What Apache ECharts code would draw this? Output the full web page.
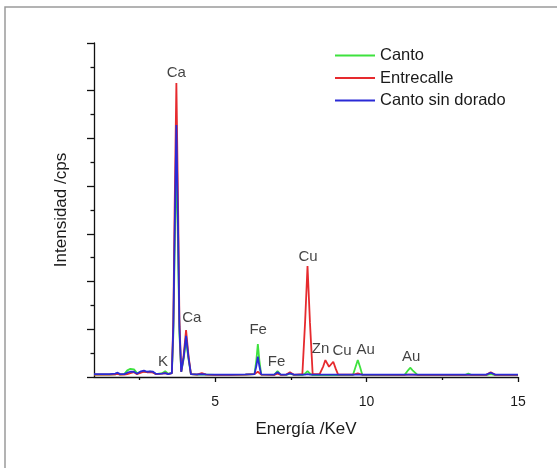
<!DOCTYPE html>
<html>
<head>
    <meta charset="utf-8">
    <title>Espectro XRF</title>
    <script src="https://cdn.jsdelivr.net/npm/echarts@6/dist/echarts.min.js"></script>
    <style>
      body, canvas {
        padding: 0;
        margin: 0;
      }
      #main { width: 557px; height: 468px; background: #fff; }
    </style>
</head>
<body>
    <div id="main"></div>
    <script type="text/javascript">
      // energy grid (keV), one row per region of the spectrum
      const energy = [
        1.0, 1.5, 1.7, 1.78, 1.86, 2.0, 2.1, 2.2, 2.32, 2.42, 2.55, 2.65, 2.75, 2.85, 2.95, 3.05,
        3.25, 3.35, 3.45, 3.57, 3.62, 3.66, 3.72, 3.78, 3.82, 3.88, 3.96, 4.04, 4.12, 4.2,
        4.4, 4.56, 4.7, 5.0, 5.5, 6.0, 6.3, 6.36, 6.41, 6.46, 6.52,
        6.95, 7.06, 7.17, 7.35, 7.47, 7.6,
        7.88, 7.97, 8.05, 8.13, 8.22, 8.45, 8.57, 8.64, 8.76, 8.9, 8.98, 9.06,
        9.55, 9.63, 9.71, 9.79, 9.86, 11.25, 11.37, 11.44, 11.52, 11.69,
        13.25, 13.36, 13.47, 13.95, 14.1, 14.25, 15.0
      ];
      const canto = [
        .10, .10, .11, .14, .10, .12, .28, .34, .32, .16, .20, .24, .20, .22, .20, .12,
        .16, .24, .14, .16, 1.8, 5.0, 9.2, 5.0, 1.8, .22, .75, 1.55, .75, .12,
        .10, .10, .10, .09, .09, .10, .12, .70, 1.38, .70, .10,
        .09, .25, .09, .09, .14, .09,
        .08, .14, .25, .14, .08, .08, .08, .08, .08, .08, .08, .08,
        .08, .40, .71, .40, .08, .08, .28, .39, .28, .08,
        .08, .14, .08, .08, .12, .08, .08
      ];
      const entrecalle = [
        .10, .10, .11, .13, .10, .10, .12, .16, .20, .12, .18, .22, .20, .20, .18, .12,
        .14, .16, .12, .16, 2.4, 6.8, 12.32, 6.8, 2.4, .22, .90, 1.97, .90, .12,
        .10, .16, .10, .09, .09, .10, .12, .18, .22, .18, .10,
        .09, .14, .09, .10, .20, .09,
        .12, 2.3, 4.65, 2.3, .12, .12, .45, .71, .43, .64, .35, .10,
        .10, .12, .15, .12, .10, .09, .10, .10, .10, .09,
        .09, .09, .09, .09, .20, .09, .09
      ];
      const cantoSinDorado = [
        .12, .12, .14, .18, .12, .12, .18, .22, .22, .14, .24, .27, .22, .24, .22, .13,
        .14, .16, .12, .16, 2.1, 5.8, 10.56, 5.8, 2.1, .22, .82, 1.72, .82, .12,
        .11, .12, .11, .10, .10, .11, .12, .46, .85, .46, .11,
        .10, .20, .10, .10, .15, .10,
        .10, .10, .12, .10, .10, .10, .10, .10, .10, .10, .10, .10,
        .10, .10, .10, .10, .10, .10, .10, .10, .10, .10,
        .10, .10, .10, .10, .18, .10, .10
      ];

      // peak annotations: element, energy, label height
      const peakNames = ['K', 'Ca', 'Ca', 'Fe', 'Fe', 'Cu', 'Zn', 'Cu', 'Au', 'Au'];
      const peakEnergy = [3.28, 3.72, 4.23, 6.42, 7.03, 8.07, 8.48, 9.19, 9.97, 11.47];
      const peakLabelY = [0.64, 12.75, 2.47, 1.97, 0.62, 5.04, 1.17, 1.10, 1.13, 0.85];

      const xLabels = [5, 10, 15];
      const xMinor = [2.5, 7.5, 12.5];

      const seriesNames = ['Canto', 'Entrecalle', 'Canto sin dorado'];
      const seriesValues = [canto, entrecalle, cantoSinDorado];
      const colors = ['#3ee23e', '#e62a2e', '#2a2ad6'];

      const font = '"Liberation Sans", Arial, sans-serif';
      const myChart = echarts.init(document.getElementById('main'));

      const lines = seriesNames.map((name, k) => ({
        name: name,
        type: 'line',
        showSymbol: false,
        animation: false,
        color: colors[k],
        lineStyle: { width: 1.8, color: colors[k] },
        data: energy.map((e, i) => [e, seriesValues[k][i]]),
        z: 2 + k
      }));

      const option = {
        backgroundColor: '#fff',
        animation: false,
        textStyle: { fontFamily: font },
        grid: { left: 94, right: 39, top: 43, bottom: 91, outerBoundsMode: 'none' },
        legend: {
          data: seriesNames,
          orient: 'vertical',
          left: 330,
          top: 42,
          icon: 'rect',
          itemWidth: 40,
          itemHeight: 2,
          itemGap: 5.5,
          textStyle: { fontSize: 16.5, color: '#1a1a1a', fontFamily: font }
        },
        xAxis: [{
          type: 'value',
          min: 1,
          max: 15,
          name: 'Energía /KeV',
          nameLocation: 'middle',
          nameGap: 44,
          nameTextStyle: { fontSize: 17, color: '#1a1a1a', fontFamily: font },
          axisLine: { lineStyle: { color: '#111', width: 1.3 } },
          axisTick: { customValues: xLabels, length: 5, lineStyle: { color: '#111', width: 1.3 } },
          axisLabel: { customValues: xLabels, fontSize: 14, color: '#1a1a1a', margin: 18, fontFamily: font },
          splitLine: { show: false }
        }, {
          type: 'value',
          position: 'bottom',
          min: 1,
          max: 15,
          axisLine: { show: false },
          axisTick: { customValues: xMinor, length: 3, lineStyle: { color: '#111', width: 1.3 } },
          axisLabel: { show: false },
          splitLine: { show: false }
        }],
        yAxis: {
          type: 'value',
          min: 0,
          max: 14,
          interval: 2,
          name: 'Intensidad /cps',
          nameLocation: 'middle',
          nameGap: 24,
          nameTextStyle: { fontSize: 17, color: '#1a1a1a', fontFamily: font },
          axisLine: { show: true, lineStyle: { color: '#111', width: 1.3 } },
          axisTick: { show: true, length: 7, lineStyle: { color: '#111', width: 1.3 } },
          minorTick: { show: true, splitNumber: 2, length: 3.5, lineStyle: { color: '#111', width: 1.3 } },
          axisLabel: { show: false },
          splitLine: { show: false }
        },
        graphic: [{
          type: 'polyline',
          shape: { points: [[5, 468], [5, 7], [557, 7]] },
          style: { stroke: '#9a9a9a', lineWidth: 1.5, fill: null },
          silent: true
        }],
        series: lines.concat([{
          name: 'peaks',
          type: 'scatter',
          symbolSize: 0,
          silent: true,
          z: 10,
          label: {
            show: true,
            position: 'inside',
            formatter: '{b}',
            fontSize: 15,
            color: '#111',
            fontFamily: font
          },
          data: peakNames.map((n, i) => ({ name: n, value: [peakEnergy[i], peakLabelY[i]] }))
        }])
      };
      myChart.setOption(option);
    </script>
</body>
</html>
